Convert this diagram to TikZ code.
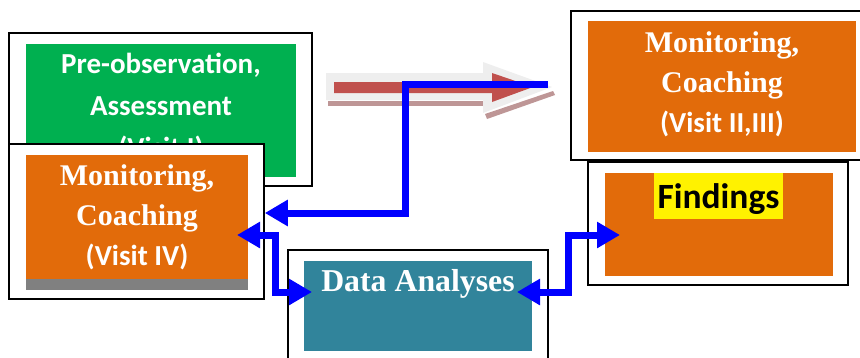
\documentclass[tikz,border=0pt]{standalone}
\usepackage{fontspec}
\setmainfont{Liberation Serif}
\newfontfamily\carl{Carlito}
\usetikzlibrary{arrows.meta,fit}
\definecolor{mygreen}{RGB}{0,176,80}
\definecolor{myorange}{RGB}{226,107,10}
\definecolor{myteal}{RGB}{49,132,155}
\definecolor{mygray}{RGB}{128,128,128}
\definecolor{arrred}{RGB}{192,80,77}
\definecolor{arrlight}{RGB}{238,238,238}
\definecolor{arrshadow}{RGB}{190,150,150}
\definecolor{myblue}{RGB}{0,0,255}
\tikzset{
  frame/.style={draw=black, line width=1.6pt, fill=white, inner sep=0pt},
  panel/.style={inner sep=0pt, draw=none},
  serifline/.style={text=white, font=\fontsize{30}{36}\selectfont\bfseries, anchor=base, inner sep=0pt},
  sansline/.style={text=white, font=\carl\fontsize{29}{36}\selectfont\bfseries, anchor=base, inner sep=0pt},
  bluelink/.style={draw=myblue, line width=7pt, line join=miter},
  tipend/.style={-{Triangle[length=23pt,width=25pt]}},
  tipboth/.style={{Triangle[length=23pt,width=25pt]}-{Triangle[length=23pt,width=25pt]}},
}
\begin{document}
\begin{tikzpicture}[x=1pt,y=-1pt]
\useasboundingbox (0,0) rectangle (860,357);

% Box 1: Pre-observation
\node[frame, fit={(9,33) (312,186)}] (f1) {};
\node[panel, fill=mygreen, fit={(26,44) (296,177)}] (p1) {};
\node[sansline] (t1a) at (161,73) {Pre-observation,};
\node[sansline] (t1b) at (161,115) {Assessment};
\node[sansline] (t1c) at (161,157) {(Visit I)};

% Box 2: Monitoring IV
\node[frame, fit={(9,144) (264,299)}] (f2) {};
\node[panel, fill=myorange, fit={(26,155) (248,279)}] (p2) {};
\node[panel, fill=mygray, fit={(26,279) (248,290)}] (g2) {};
\node[serifline] (t2a) at (137,185) {Monitoring,};
\node[serifline] (t2b) at (137,225) {Coaching};
\node[sansline] (t2c) at (137,265) {(Visit IV)};

% Box 3: Monitoring II,III
\node[frame, fit={(571,11) (875,160)}] (f3) {};
\node[panel, fill=myorange, fit={(588,21) (856,152)}] (p3) {};
\node[serifline] (t3a) at (722,52) {Monitoring,};
\node[serifline] (t3b) at (722,92) {Coaching};
\node[sansline] (t3c) at (722,132) {(Visit II,III)};

% Box 4: Findings
\node[frame, fit={(588,162) (848,285)}] (f4) {};
\node[panel, fill=myorange, fit={(605,173) (833,276)}] (p4) {};
\node[panel, fill=yellow, fit={(654,173) (783,219)}] (h4) {};
\node[text=black, font=\carl\fontsize{35.5}{40}\selectfont\bfseries, anchor=base, inner sep=0pt] (t4) at (718.5,208) {Findings};

% Box 5: Data Analyses
\node[frame, fit={(288,250) (548,370)}] (f5) {};
\node[panel, fill=myteal, fit={(304,261) (532,351)}] (p5) {};
\node[serifline, font=\fontsize{31.8}{36}\selectfont\bfseries] (t5) at (418,291) {Data Analyses};

% Big decorative arrow
\fill[arrshadow] (328,101) rectangle (485,106);
\fill[arrshadow] (485,114) -- (553,91) -- (555,95) -- (487,119) -- cycle;
\fill[arrlight] (326,73) -- (483,73) -- (483,62) -- (552,87) -- (483,113) -- (483,100) -- (326,100) -- cycle;
\fill[arrred] (334,82) -- (492,82) -- (492,73) -- (533,87) -- (492,102) -- (492,93) -- (334,93) -- cycle;

% Blue connectors
\coordinate (s1) at (548,84);
\coordinate (k1) at (405,84);
\coordinate (k2) at (405,213);
\draw[bluelink, tipend] (s1) -- (k1) -- (k2) -- (k2 -| f2.east);

\coordinate (a2) at (237,235);
\coordinate (b2) at (312,292);
\draw[bluelink, tipboth] (a2) -- (275,235) -- (275,292) -- (b2);

\coordinate (a3) at (517,292);
\coordinate (b3) at (620,235);
\draw[bluelink, tipboth] (a3) -- (568,292) -- (568,235) -- (b3);
\end{tikzpicture}
\end{document}
